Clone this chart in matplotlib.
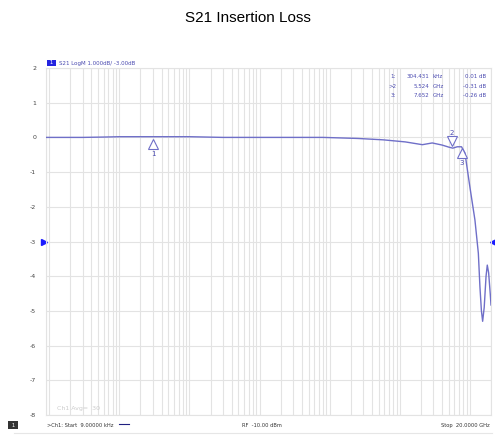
import numpy as np
import matplotlib.pyplot as plt
from matplotlib.ticker import LogLocator, NullFormatter

# trace S21 (dB)
freq_hz = [9e3, 3e4, 6e4, 1e5, 3e5, 1e6, 3e6, 1e7, 8e7, 2.5e8, 5.8e8, 1.2e9,
           2.1e9, 2.9e9, 4.0e9, 5.0e9, 5.7e9, 6.6e9, 7.6e9, 8.5e9, 1.0e10,
           1.18e10, 1.32e10, 1.39e10, 1.46e10, 1.52e10, 1.6e10, 1.7e10,
           1.77e10, 1.85e10, 1.95e10, 2.0e10]
s21_db = [0.0, 0.0, 0.01, 0.02, 0.02, 0.02, 0.0, 0.0, 0.0, -0.03, -0.07, -0.13,
          -0.21, -0.16, -0.22, -0.28, -0.31, -0.27, -0.27, -0.45, -1.43,
          -2.38, -3.34, -4.3, -5.0, -5.3, -4.9, -4.0, -3.68, -3.9, -4.5, -4.83]

marker_freq = [304.431e3, 5.524e9, 7.652e9]
marker_db = [0.01, -0.31, -0.26]
marker_rows = [("1:", "304.431", "kHz", "0.01 dB"),
               (">2", "5.524", "GHz", "-0.31 dB"),
               ("3:", "7.652", "GHz", "-0.26 dB")]
y_ticks = [2, 1, 0, -1, -2, -3, -4, -5, -6, -7, -8]

trace_col = '#6f6fc8'
grid_col = '#e3e3e3'
text_col = '#4a4ab0'

fig = plt.figure(figsize=(4.95, 4.36), dpi=100)
fig.text(0.5, 0.958, 'S21 Insertion Loss', ha='center', va='center', fontsize=11,
         family='Liberation Sans')

ax = fig.add_axes([46 / 495, 21 / 436, 445 / 495, 347 / 436])
ax.set_xscale('log')
ax.set_xlim(9e3, 2e10)
ax.set_ylim(-8, 2)
ax.xaxis.set_major_locator(LogLocator(base=10, subs=np.arange(1, 10), numticks=100))
ax.xaxis.set_minor_locator(LogLocator(base=10, subs=[], numticks=100))
ax.xaxis.set_major_formatter(NullFormatter())
ax.xaxis.set_minor_formatter(NullFormatter())
ax.set_yticks(y_ticks)
ax.set_yticklabels([str(t) for t in y_ticks], fontsize=4.5, color='#444444')
ax.tick_params(axis='both', length=0, pad=7)
ax.grid(True, which='major', color=grid_col, linewidth=0.8)
for s in ax.spines.values():
    s.set_color(grid_col)
    s.set_linewidth(0.8)

ax.plot(freq_hz, s21_db, color=trace_col, linewidth=1.0, zorder=3)

# markers
for i, (f, d) in enumerate(zip(marker_freq, marker_db)):
    if i == 1:
        ax.plot(f, d + 0.2, marker='v', ms=7, mfc='white', mec=trace_col, mew=0.8, zorder=4)
        ax.text(f, d + 0.45, str(i + 1), ha='center', va='center', fontsize=5, color=text_col)
    else:
        ax.plot(f, d - 0.2, marker='^', ms=7, mfc='white', mec=trace_col, mew=0.8, zorder=4)
        ax.text(f, d - 0.48, str(i + 1), ha='center', va='center', fontsize=5, color=text_col)

# marker readout table
for r, (a, b, c, d) in enumerate(marker_rows):
    yy = 0.975 - r * 0.027
    ax.text(0.787, yy, a, transform=ax.transAxes, ha='right', va='center', fontsize=4, color=text_col)
    ax.text(0.862, yy, b, transform=ax.transAxes, ha='right', va='center', fontsize=4, color=text_col)
    ax.text(0.868, yy, c, transform=ax.transAxes, ha='left', va='center', fontsize=4, color=text_col)
    ax.text(0.988, yy, d, transform=ax.transAxes, ha='right', va='center', fontsize=4, color=text_col)

ax.text(0.025, 0.012, 'Ch1 Avg=  30', transform=ax.transAxes, fontsize=4.5, color='#cccccc',
        ha='left', va='bottom')

# reference level arrows at -3 dB
ax.plot(-0.004, -3, marker='>', ms=4, color='#1a1aff', transform=ax.get_yaxis_transform(),
        clip_on=False)
ax.plot(1.004, -3, marker='<', ms=4, color='#1a1aff', transform=ax.get_yaxis_transform(),
        clip_on=False)

# trace header
fig.text(48 / 495, 1 - 63 / 436, ' 1 ', fontsize=4, color='white', va='center', ha='left',
         bbox=dict(boxstyle='square,pad=0.15', fc='#2424e0', ec='none'))
fig.text(59 / 495, 1 - 63 / 436, 'S21 LogM 1.000dB/ -3.00dB', fontsize=4, color=text_col,
         va='center', ha='left')

# status bar
fig.text(13 / 495, 1 - 425 / 436, ' 1 ', fontsize=4, color='white', va='center', ha='center',
         bbox=dict(boxstyle='square,pad=0.2', fc='#333333', ec='none'))
fig.text(47 / 495, 1 - 425 / 436, '>Ch1: Start  9.00000 kHz', fontsize=3.7, color='#333333',
         va='center', ha='left')
fig.add_artist(plt.Line2D([119 / 495, 129 / 495], [1 - 424 / 436, 1 - 424 / 436],
                          color='#202080', linewidth=0.8))
fig.text(262 / 495, 1 - 425 / 436, 'RF  -10.00 dBm', fontsize=3.7, color='#333333',
         va='center', ha='center')
fig.text(490 / 495, 1 - 425 / 436, 'Stop  20.0000 GHz', fontsize=3.7, color='#333333',
         va='center', ha='right')
fig.add_artist(plt.Line2D([14 / 495, 492 / 495], [1 - 433 / 436, 1 - 433 / 436],
                          color='#e6e6e6', linewidth=0.8))

fig.savefig('out.png', dpi=100)
